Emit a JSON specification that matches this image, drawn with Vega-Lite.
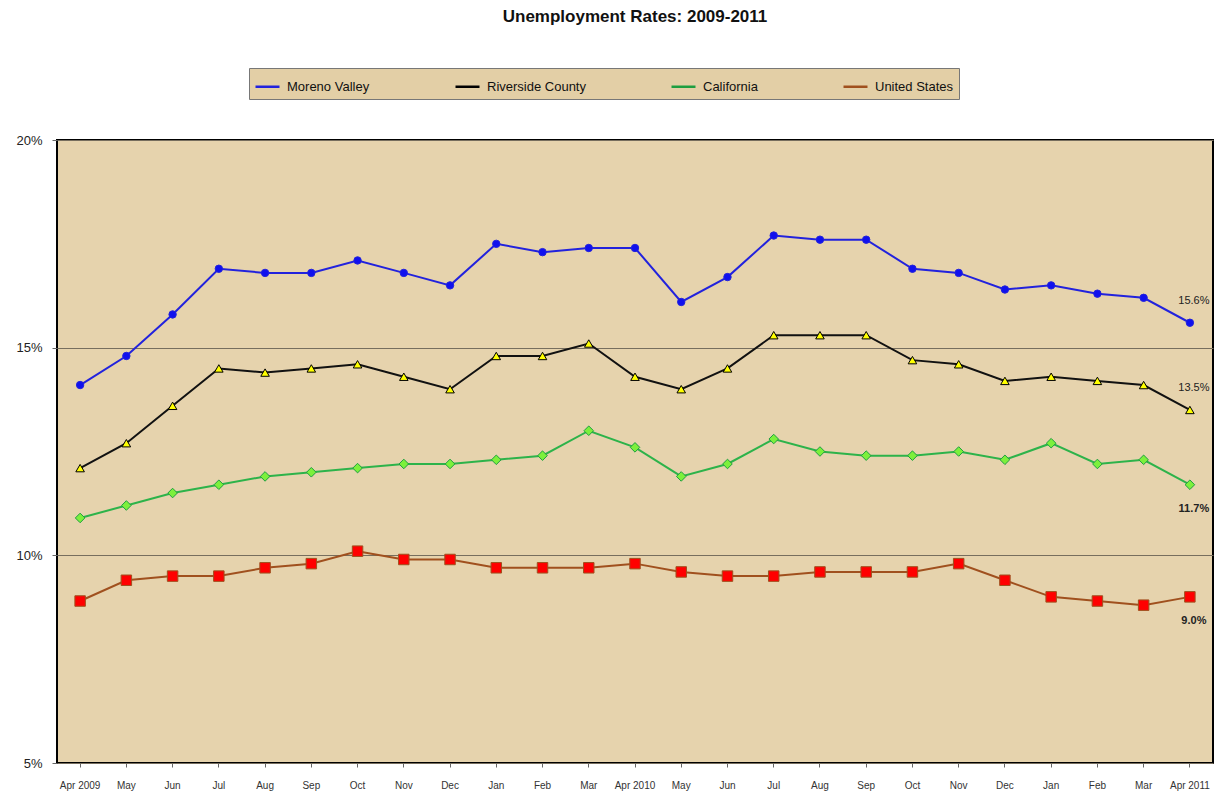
{
  "$schema": "https://vega.github.io/schema/vega-lite/v6.json",
  "autosize": "none",
  "width": 1156,
  "height": 623,
  "padding": {"left": 57, "top": 140, "right": 11, "bottom": 31},
  "background": "#ffffff",
  "title": {
    "text": "Unemployment Rates:  2009-2011",
    "font": "Liberation Sans",
    "fontSize": 17,
    "fontWeight": "bold",
    "color": "#111111",
    "anchor": "middle",
    "offset": 42
  },
  "config": {
    "view": {"fill": "#e6d3ad", "stroke": "#000000", "strokeWidth": 2},
    "font": "Liberation Sans"
  },
  "data": {
    "values": [
      {"month": "Apr 2009", "Moreno Valley": 0.141, "Riverside County": 0.121, "California": 0.109, "United States": 0.089},
      {"month": "May 2009", "Moreno Valley": 0.148, "Riverside County": 0.127, "California": 0.112, "United States": 0.094},
      {"month": "Jun 2009", "Moreno Valley": 0.158, "Riverside County": 0.136, "California": 0.115, "United States": 0.095},
      {"month": "Jul 2009", "Moreno Valley": 0.169, "Riverside County": 0.145, "California": 0.117, "United States": 0.095},
      {"month": "Aug 2009", "Moreno Valley": 0.168, "Riverside County": 0.144, "California": 0.119, "United States": 0.097},
      {"month": "Sep 2009", "Moreno Valley": 0.168, "Riverside County": 0.145, "California": 0.120, "United States": 0.098},
      {"month": "Oct 2009", "Moreno Valley": 0.171, "Riverside County": 0.146, "California": 0.121, "United States": 0.101},
      {"month": "Nov 2009", "Moreno Valley": 0.168, "Riverside County": 0.143, "California": 0.122, "United States": 0.099},
      {"month": "Dec 2009", "Moreno Valley": 0.165, "Riverside County": 0.140, "California": 0.122, "United States": 0.099},
      {"month": "Jan 2010", "Moreno Valley": 0.175, "Riverside County": 0.148, "California": 0.123, "United States": 0.097},
      {"month": "Feb 2010", "Moreno Valley": 0.173, "Riverside County": 0.148, "California": 0.124, "United States": 0.097},
      {"month": "Mar 2010", "Moreno Valley": 0.174, "Riverside County": 0.151, "California": 0.130, "United States": 0.097},
      {"month": "Apr 2010", "Moreno Valley": 0.174, "Riverside County": 0.143, "California": 0.126, "United States": 0.098},
      {"month": "May 2010", "Moreno Valley": 0.161, "Riverside County": 0.140, "California": 0.119, "United States": 0.096},
      {"month": "Jun 2010", "Moreno Valley": 0.167, "Riverside County": 0.145, "California": 0.122, "United States": 0.095},
      {"month": "Jul 2010", "Moreno Valley": 0.177, "Riverside County": 0.153, "California": 0.128, "United States": 0.095},
      {"month": "Aug 2010", "Moreno Valley": 0.176, "Riverside County": 0.153, "California": 0.125, "United States": 0.096},
      {"month": "Sep 2010", "Moreno Valley": 0.176, "Riverside County": 0.153, "California": 0.124, "United States": 0.096},
      {"month": "Oct 2010", "Moreno Valley": 0.169, "Riverside County": 0.147, "California": 0.124, "United States": 0.096},
      {"month": "Nov 2010", "Moreno Valley": 0.168, "Riverside County": 0.146, "California": 0.125, "United States": 0.098},
      {"month": "Dec 2010", "Moreno Valley": 0.164, "Riverside County": 0.142, "California": 0.123, "United States": 0.094},
      {"month": "Jan 2011", "Moreno Valley": 0.165, "Riverside County": 0.143, "California": 0.127, "United States": 0.090},
      {"month": "Feb 2011", "Moreno Valley": 0.163, "Riverside County": 0.142, "California": 0.122, "United States": 0.089},
      {"month": "Mar 2011", "Moreno Valley": 0.162, "Riverside County": 0.141, "California": 0.123, "United States": 0.088},
      {"month": "Apr 2011", "Moreno Valley": 0.156, "Riverside County": 0.135, "California": 0.117, "United States": 0.090}
    ]
  },
  "transform": [
    {"fold": ["Moreno Valley", "Riverside County", "California", "United States"], "as": ["series", "rate"]}
  ],
  "encoding": {
    "x": {
      "field": "month",
      "type": "ordinal",
      "sort": null,
      "scale": {"type": "band", "paddingInner": 0, "paddingOuter": 0},
      "axis": {
        "title": null,
        "labelAngle": 0,
        "labelFont": "Liberation Sans",
        "labelFontSize": 10,
        "labelColor": "#333333",
        "labelPadding": 13,
        "tickSize": 4,
        "tickColor": "#666666",
        "domain": false,
        "grid": false,
        "labelExpr": "indexof(datum.value, 'Apr') == 0 ? datum.value : slice(datum.value, 0, 3)"
      }
    },
    "y": {
      "field": "rate",
      "type": "quantitative",
      "scale": {"domain": [0.05, 0.2], "nice": false, "zero": false},
      "axis": {
        "title": null,
        "values": [0.05, 0.1, 0.15, 0.2],
        "format": ".0%",
        "labelFont": "Liberation Sans",
        "labelFontSize": 13,
        "labelColor": "#222222",
        "labelPadding": 10,
        "tickSize": 5,
        "tickColor": "#666666",
        "domain": false,
        "grid": true,
        "gridColor": "#776e5e",
        "gridWidth": 1.2
      }
    }
  },
  "layer": [
    {
      "mark": {"type": "line", "strokeWidth": 2},
      "encoding": {
        "stroke": {
          "field": "series",
          "type": "nominal",
          "legend": null,
          "scale": {
            "domain": ["Moreno Valley", "Riverside County", "California", "United States"],
            "range": ["#2222dd", "#111111", "#2db34a", "#a0501e"]
          }
        }
      }
    },
    {
      "mark": {"type": "point", "filled": true, "opacity": 1, "strokeWidth": 1},
      "encoding": {
        "shape": {
          "field": "series",
          "type": "nominal",
          "scale": {
            "domain": ["Moreno Valley", "Riverside County", "California", "United States"],
            "range": ["circle", "triangle-up", "diamond", "square"]
          },
          "legend": {"orient": "none", "legendX": 192, "legendY": -72, "direction": "horizontal", "title": null, "fillColor": "#e3cfa6", "strokeColor": "#777777", "padding": 5, "labelFontSize": 13, "labelColor": "#111111", "labelOffset": 6, "symbolType": "stroke", "symbolSize": 576, "symbolStrokeWidth": 2.5, "columnPadding": 80}
        },
        "fill": {
          "field": "series",
          "type": "nominal",
          "scale": {
            "domain": ["Moreno Valley", "Riverside County", "California", "United States"],
            "range": ["#1010ee", "#ffff00", "#7cf03c", "#ff0000"]
          },
          "legend": {"orient": "none", "legendX": 192, "legendY": -72, "direction": "horizontal", "title": null, "fillColor": "#e3cfa6", "strokeColor": "#777777", "padding": 5, "labelFontSize": 13, "labelColor": "#111111", "labelOffset": 6, "symbolType": "stroke", "symbolSize": 576, "symbolStrokeWidth": 2.5, "columnPadding": 80}
        },
        "stroke": {
          "field": "series",
          "type": "nominal",
          "scale": {
            "domain": ["Moreno Valley", "Riverside County", "California", "United States"],
            "range": ["#2222dd", "#000000", "#1e9e40", "#a0501e"]
          },
          "legend": {"orient": "none", "legendX": 192, "legendY": -72, "direction": "horizontal", "title": null, "fillColor": "#e3cfa6", "strokeColor": "#777777", "padding": 5, "labelFontSize": 13, "labelColor": "#111111", "labelOffset": 6, "symbolType": "stroke", "symbolSize": 576, "symbolStrokeWidth": 2.5, "columnPadding": 80}
        },
        "size": {
          "field": "series",
          "type": "nominal",
          "legend": null,
          "scale": {
            "domain": ["Moreno Valley", "Riverside County", "California", "United States"],
            "range": [55, 110, 80, 110]
          }
        }
      }
    },
    {
      "transform": [
        {"filter": "datum.month == 'Apr 2011' && (datum.series == 'Moreno Valley' || datum.series == 'Riverside County')"}
      ],
      "mark": {"type": "text", "dy": -22, "dx": 4, "font": "Liberation Sans", "fontSize": 11, "color": "#222222"},
      "encoding": {
        "text": {"field": "rate", "type": "quantitative", "format": ".1%"}
      }
    },
    {
      "transform": [
        {"filter": "datum.month == 'Apr 2011' && (datum.series == 'California' || datum.series == 'United States')"}
      ],
      "mark": {"type": "text", "dy": 24, "dx": 4, "font": "Liberation Sans", "fontSize": 11, "fontWeight": "bold", "color": "#222222"},
      "encoding": {
        "text": {"field": "rate", "type": "quantitative", "format": ".1%"}
      }
    }
  ],
  "resolve": {
    "scale": {"stroke": "independent"}
  }
}
